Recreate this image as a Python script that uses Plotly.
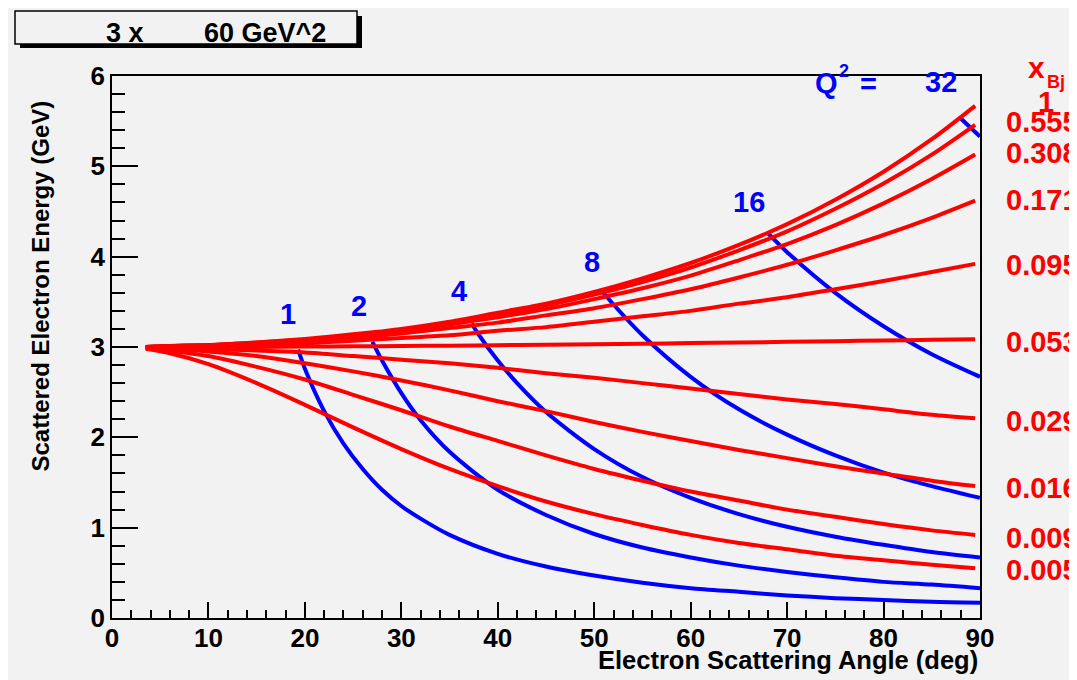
import plotly.graph_objects as go

# ---------------- data ----------------
RED_THETA = [3.5, 6, 10, 15, 20, 25, 30, 35, 40, 45, 50, 55, 60, 65, 70, 75, 80, 85, 89.5]
XBJ_LABELS = ["1", "0.555", "0.308", "0.171", "0.095", "0.053", "0.029", "0.016", "0.009", "0.005"]
E_X1     = [3.00, 3.01, 3.02, 3.05, 3.09, 3.14, 3.20, 3.28, 3.38, 3.48, 3.61, 3.76, 3.93, 4.13, 4.36, 4.63, 4.94, 5.30, 5.67]
E_X0555  = [3.00, 3.01, 3.02, 3.05, 3.08, 3.13, 3.19, 3.27, 3.36, 3.46, 3.58, 3.72, 3.88, 4.07, 4.28, 4.53, 4.81, 5.13, 5.46]
E_X0308  = [3.00, 3.01, 3.02, 3.04, 3.08, 3.12, 3.18, 3.25, 3.33, 3.42, 3.53, 3.65, 3.79, 3.96, 4.14, 4.35, 4.59, 4.86, 5.13]
E_X0171  = [3.00, 3.01, 3.02, 3.04, 3.07, 3.10, 3.15, 3.21, 3.27, 3.35, 3.43, 3.53, 3.64, 3.77, 3.91, 4.07, 4.24, 4.43, 4.62]
E_X0095  = [3.00, 3.00, 3.01, 3.02, 3.04, 3.07, 3.10, 3.13, 3.18, 3.22, 3.28, 3.34, 3.40, 3.48, 3.55, 3.64, 3.73, 3.83, 3.92]
E_X0053  = [3.00, 3.00, 3.00, 3.00, 3.005, 3.008, 3.011, 3.015, 3.02, 3.025, 3.031, 3.037, 3.043, 3.05, 3.057, 3.064, 3.072, 3.08, 3.087]
E_X0029  = [3.00, 2.99, 2.98, 2.96, 2.94, 2.90, 2.86, 2.82, 2.77, 2.71, 2.66, 2.60, 2.54, 2.48, 2.42, 2.37, 2.31, 2.25, 2.21]
E_X0016  = [2.99, 2.98, 2.95, 2.90, 2.82, 2.73, 2.63, 2.52, 2.40, 2.29, 2.17, 2.06, 1.96, 1.86, 1.77, 1.68, 1.60, 1.52, 1.46]
E_X0009  = [2.99, 2.96, 2.90, 2.78, 2.64, 2.47, 2.30, 2.12, 1.96, 1.80, 1.65, 1.52, 1.40, 1.30, 1.20, 1.12, 1.04, 0.97, 0.92]
E_X0005  = [2.98, 2.93, 2.81, 2.60, 2.36, 2.11, 1.87, 1.65, 1.46, 1.29, 1.15, 1.03, 0.92, 0.83, 0.76, 0.69, 0.64, 0.59, 0.55]
RED_SERIES = [E_X1, E_X0555, E_X0308, E_X0171, E_X0095, E_X0053, E_X0029, E_X0016, E_X0009, E_X0005]
XBJ_LABEL_Y = [5.71, 5.49, 5.15, 4.63, 3.91, 3.06, 2.18, 1.44, 0.89, 0.53]

Q2_LABELS = ["1", "2", "4", "8", "16", "32"]
Q1_THETA  = [19.3, 20, 22, 24, 26, 28, 30, 32, 35, 40, 45, 50, 55, 60, 65, 70, 75, 80, 85, 90]
Q1_E      = [2.97, 2.76, 2.29, 1.93, 1.65, 1.42, 1.24, 1.10, 0.92, 0.71, 0.57, 0.47, 0.39, 0.33, 0.29, 0.25, 0.22, 0.20, 0.18, 0.17]
Q2_THETA  = [27.0, 28, 30, 32, 35, 40, 45, 50, 55, 60, 65, 70, 75, 80, 85, 90]
Q2_E      = [3.06, 2.85, 2.49, 2.19, 1.84, 1.42, 1.14, 0.93, 0.78, 0.67, 0.58, 0.51, 0.45, 0.40, 0.37, 0.33]
Q4_THETA  = [37.3, 38, 40, 42, 45, 50, 55, 60, 65, 70, 75, 80, 85, 90]
Q4_E      = [3.26, 3.14, 2.85, 2.60, 2.28, 1.87, 1.56, 1.33, 1.15, 1.01, 0.90, 0.81, 0.73, 0.67]
Q8_THETA  = [50.8, 52, 55, 60, 65, 70, 75, 80, 85, 90]
Q8_E      = [3.62, 3.47, 3.13, 2.67, 2.31, 2.03, 1.80, 1.61, 1.46, 1.33]
Q16_THETA = [68.0, 70, 75, 80, 85, 90]
Q16_E     = [4.26, 4.05, 3.60, 3.23, 2.92, 2.67]
Q32_THETA = [87.9, 89, 90]
Q32_E     = [5.54, 5.43, 5.33]
BLUE_SERIES = [(Q1_THETA, Q1_E), (Q2_THETA, Q2_E), (Q4_THETA, Q4_E),
               (Q8_THETA, Q8_E), (Q16_THETA, Q16_E), (Q32_THETA, Q32_E)]
Q2_LABEL_POS = [(18.25, 3.36), (25.61, 3.45), (35.95, 3.62), (49.72, 3.94), (66.05, 4.60), (86.0, 5.93)]

TITLE_LEFT = "3 x"
TITLE_RIGHT = "60 GeV^2"
X_TITLE = "Electron Scattering Angle (deg)"
Y_TITLE = "Scattered Electron Energy (GeV)"

# ---------------- style ----------------
FONT = "Liberation Sans, Arial, Helvetica, sans-serif"
RED = "#ff0000"
BLUE = "#0000ff"
BG = "#f2f2f2"

# plot area in screenshot pixels (used only to place decorations)
PX_L, PX_R, PX_T, PX_B = 112, 980, 76, 618


def px(xp):
    return (xp - PX_L) / (PX_R - PX_L)


def py(yp):
    return (PX_B - yp) / (PX_B - PX_T)


fig = go.Figure()

for th, e in BLUE_SERIES:
    fig.add_trace(go.Scatter(x=th, y=e, mode="lines",
                             line=dict(color=BLUE, width=4, shape="spline", smoothing=0.8),
                             hoverinfo="skip", showlegend=False))

for e in RED_SERIES:
    fig.add_trace(go.Scatter(x=RED_THETA, y=e, mode="lines",
                             line=dict(color=RED, width=4, shape="spline", smoothing=0.8),
                             hoverinfo="skip", showlegend=False))

annotations = []


def ann(text, x, y, xref, yref, size, color="black", xanchor="center", yanchor="middle", angle=0):
    annotations.append(dict(text=text, x=x, y=y, xref=xref, yref=yref, showarrow=False,
                            xanchor=xanchor, yanchor=yanchor, textangle=angle,
                            font=dict(family=FONT, size=size, color=color, weight="bold")))


# right-side x_Bj labels
for lab, yv in zip(XBJ_LABELS, XBJ_LABEL_Y):
    if lab == "1":
        ann(lab, px(1046), yv, "paper", "y", 29, RED)
    else:
        ann(lab, px(1004), yv, "paper", "y", 29, RED, xanchor="left")
ann("x", px(1036), py(68), "paper", "paper", 30, RED)
ann("Bj", px(1056), py(82), "paper", "paper", 18, RED)

# Q^2 labels
for lab, (xv, yv) in zip(Q2_LABELS, Q2_LABEL_POS):
    ann(lab, xv, yv, "x", "y", 29, BLUE)
ann("Q", px(826), py(83), "paper", "paper", 29, BLUE)
ann("2", px(844), py(71), "paper", "paper", 18, BLUE)
ann("=", px(868), py(84), "paper", "paper", 29, BLUE)

# axis titles
ann(X_TITLE, 1.0, py(660), "paper", "paper", 25.5, xanchor="right")
ann(Y_TITLE, px(40), py(99), "paper", "paper", 24, yanchor="top", angle=-90)

# title box text
ann(TITLE_LEFT, px(104), py(33), "paper", "paper", 27, xanchor="left")
ann(TITLE_RIGHT, px(202), py(33), "paper", "paper", 27, xanchor="left")

shapes = [
    dict(type="rect", xref="paper", yref="paper", x0=px(20), x1=px(362), y0=py(48), y1=py(16),
         fillcolor="black", line=dict(width=0), layer="above"),
    dict(type="rect", xref="paper", yref="paper", x0=px(15), x1=px(357), y0=py(44), y1=py(11),
         fillcolor=BG, line=dict(color="black", width=1.5), layer="above"),
]

fig.update_layout(
    width=1077, height=680,
    margin=dict(l=104, r=105, t=68, b=70, pad=0),
    paper_bgcolor=BG, plot_bgcolor=BG,
    showlegend=False,
    annotations=annotations,
    shapes=shapes,
)

tickfont = dict(family=FONT, size=26, color="black", weight="bold")
fig.update_xaxes(range=[0, 90], showgrid=False, zeroline=False,
                 showline=True, linecolor="black", linewidth=1.5, mirror=True,
                 ticks="inside", ticklen=16, tickwidth=1.5, tickcolor="black",
                 tick0=0, dtick=10, tickfont=tickfont, ticklabelstandoff=-4,
                 minor=dict(ticks="inside", ticklen=8, dtick=2, tickwidth=1.5, tickcolor="black"))
fig.update_yaxes(range=[0, 6], showgrid=False, zeroline=False,
                 showline=True, linecolor="black", linewidth=1.5, mirror=True,
                 ticks="inside", ticklen=26, tickwidth=1.5, tickcolor="black",
                 tick0=0, dtick=1, tickfont=tickfont,
                 minor=dict(ticks="inside", ticklen=13, dtick=0.2, tickwidth=1.5, tickcolor="black"))

fig.write_html("out.html")
